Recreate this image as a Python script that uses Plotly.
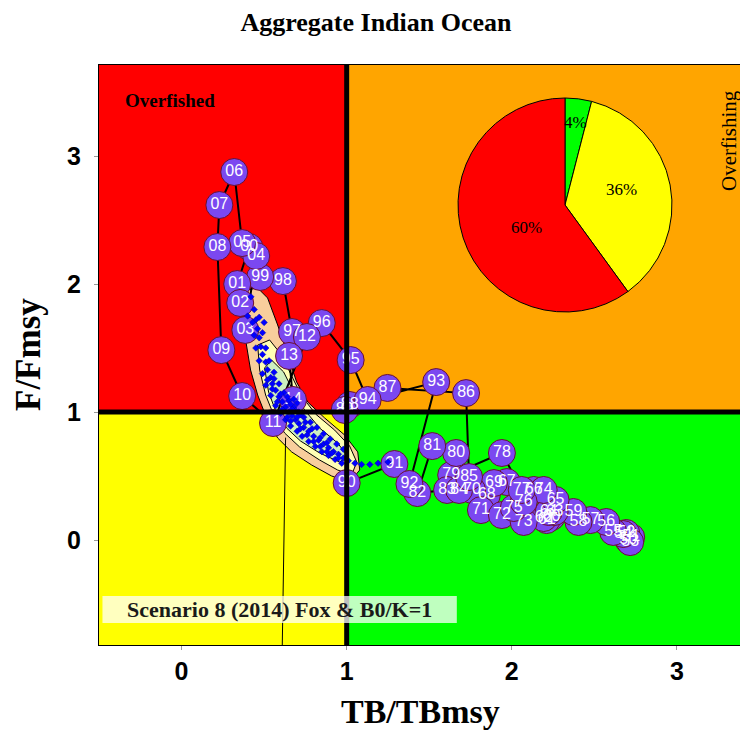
import math
import plotly.graph_objects as go

# ---- stock trajectory (1950-2014) ----
years = ["50", "51", "52", "53", "54", "55", "56", "57", "58", "59",
         "60", "61", "62", "63", "64", "65", "66", "67", "68", "69",
         "70", "71", "72", "73", "74", "75", "76", "77", "78", "79",
         "80", "81", "82", "83", "84", "85", "86", "87", "88", "89",
         "90", "91", "92", "93", "94", "95", "96", "97", "98", "99",
         "00", "01", "02", "03", "04", "05", "06", "07", "08", "09",
         "10", "11", "12", "13", "14"]
tb_ratio = [2.705, 2.723, 2.693, 2.717, 2.675, 2.614, 2.572, 2.476, 2.404, 2.373,
            2.241, 2.211, 2.193, 2.259, 2.223, 2.265, 2.133, 1.970, 1.849, 1.892,
            1.759, 1.813, 1.940, 2.072, 2.193, 2.012, 2.072, 2.060, 1.940, 1.633,
            1.663, 1.518, 1.428, 1.608, 1.681, 1.741, 1.723, 1.247, 1.018, 0.988,
            1.000, 1.289, 1.380, 1.542, 1.127, 1.024, 0.849, 0.669, 0.614, 0.476,
            0.410, 0.337, 0.355, 0.386, 0.452, 0.367, 0.319, 0.229, 0.217, 0.241,
            0.367, 0.554, 0.759, 0.651, 0.675]
f_ratio = [0.000, 0.023, 0.055, -0.016, 0.047, 0.063, 0.141, 0.156, 0.141, 0.219,
           0.180, 0.156, 0.172, 0.219, 0.219, 0.313, 0.391, 0.453, 0.352, 0.445,
           0.391, 0.234, 0.195, 0.141, 0.391, 0.250, 0.297, 0.391, 0.680, 0.508,
           0.680, 0.734, 0.367, 0.391, 0.391, 0.492, 1.148, 1.188, 1.055, 1.016,
           0.445, 0.594, 0.438, 1.234, 1.094, 1.406, 1.695, 1.625, 2.023, 2.055,
           2.289, 2.000, 1.852, 1.641, 2.219, 2.320, 2.875, 2.617, 2.289, 1.484,
           1.125, 0.914, 1.586, 1.438, 1.094]

# ---- uncertainty contours around the final-year estimate ----
outer_tb = [0.394, 0.376, 0.388, 0.418, 0.461, 0.515, 0.582, 0.667, 0.788, 0.909,
            1.018, 1.079, 1.067, 0.988, 0.867, 0.764, 0.697, 0.642, 0.582, 0.521,
            0.461]
outer_f = [1.953, 1.797, 1.563, 1.328, 1.133, 0.953, 0.797, 0.688, 0.586, 0.500,
           0.453, 0.547, 0.688, 0.820, 0.953, 1.078, 1.234, 1.445, 1.680, 1.891,
           1.969]
mid_tb = [0.461, 0.473, 0.509, 0.558, 0.624, 0.715, 0.836, 0.945, 1.030, 1.061,
          1.018, 0.927, 0.812, 0.727, 0.667, 0.606, 0.533]
mid_f = [1.523, 1.328, 1.133, 0.977, 0.836, 0.727, 0.625, 0.547, 0.508, 0.609,
         0.734, 0.859, 0.984, 1.125, 1.281, 1.445, 1.563]
inner_tb = [0.503, 0.527, 0.570, 0.636, 0.721, 0.836, 0.958, 1.006, 0.945, 0.836,
            0.745, 0.679, 0.618, 0.545]
inner_f = [1.344, 1.156, 1.008, 0.875, 0.773, 0.680, 0.609, 0.656, 0.758, 0.875,
           1.016, 1.156, 1.313, 1.406]

# ---- bootstrap estimates ----
boot_tb = [0.44, 0.45, 0.46, 0.47, 0.48, 0.49, 0.51, 0.52, 0.54, 0.55, 0.57, 0.59,
           0.61, 0.63, 0.65, 0.67, 0.69, 0.71, 0.74, 0.77, 0.80, 0.83, 0.86, 0.89,
           0.92, 0.95, 0.98, 1.01, 1.05, 1.09, 1.14, 1.19, 1.25,
           0.47, 0.49, 0.51, 0.53, 0.56, 0.59, 0.62, 0.65, 0.68, 0.71, 0.74, 0.78,
           0.82, 0.86, 0.90, 0.94, 0.98,
           0.43, 0.44, 0.45, 0.47, 0.49, 0.51, 0.54, 0.57, 0.60, 0.63, 0.66, 0.70,
           0.73, 0.77, 0.81, 0.85, 0.89, 0.93, 0.97,
           0.66, 0.68, 0.70, 0.64, 0.69, 0.72, 0.62, 0.66, 0.75, 0.79, 0.84, 0.88,
           0.42, 0.40, 0.50,
           0.52, 0.55, 0.56, 0.58, 0.60, 0.61, 0.64, 0.67, 0.70, 0.72, 0.76, 0.80,
           0.84, 0.88, 0.91, 0.95]
boot_f = [1.80, 1.72, 1.65, 1.58, 1.51, 1.45, 1.39, 1.33, 1.27, 1.22, 1.17, 1.12,
          1.08, 1.04, 1.00, 0.97, 0.94, 0.91, 0.88, 0.85, 0.81, 0.78, 0.75, 0.72,
          0.69, 0.67, 0.64, 0.62, 0.60, 0.59, 0.59, 0.60, 0.61,
          1.74, 1.62, 1.50, 1.40, 1.31, 1.22, 1.15, 1.09, 1.04, 1.00, 0.96, 0.92,
          0.88, 0.83, 0.79, 0.75, 0.71,
          1.70, 1.60, 1.50, 1.40, 1.30, 1.21, 1.13, 1.05, 0.99, 0.94, 0.89, 0.85,
          0.81, 0.77, 0.73, 0.69, 0.66, 0.63, 0.60,
          1.06, 1.10, 1.07, 1.12, 1.01, 0.98, 1.01, 0.93, 0.92, 0.87, 0.80, 0.76,
          1.90, 1.75, 1.70,
          1.25, 1.18, 1.26, 1.08, 1.14, 1.02, 0.96, 1.02, 0.96, 0.87, 0.82, 0.77,
          0.73, 0.69, 0.68, 0.64]

# projection line
proj_tb = [0.63, 0.61]
proj_f = [0.80, -0.82]

# ---- quadrant shares ----
pie_values = [4, 36, 60]
pie_colors = ["#00FF00", "#FFFF00", "#FF0000"]
pie_label_radius = [0.78, 0.55, 0.42]
pie_label_turn = [0, -4, -12]   # degrees

x_range = [-0.5, 3.382]
y_range = [-0.82, 3.711]

W, H = 740, 731
M_L, M_R, M_T, M_B = 99, 0, 65, 86
PW, PH = W - M_L - M_R, H - M_T - M_B

SERIF = "Liberation Serif"
SANS = "Liberation Sans"


def px_to_paper(px, py):
    return (px - M_L) / PW, (H - M_B - py) / PH


fig = go.Figure()

# contour bands
for xs, ys, col in [(outer_tb, outer_f, "#F8CE9C"),
                    (mid_tb, mid_f, "#FFFFB4"),
                    (inner_tb, inner_f, "#CDEFC0")]:
    fig.add_trace(go.Scatter(x=xs + xs[:1], y=ys + ys[:1], mode="lines",
                             fill="toself", fillcolor=col,
                             line=dict(color="black", width=1),
                             hoverinfo="skip", showlegend=False))

fig.add_trace(go.Scatter(x=proj_tb, y=proj_f, mode="lines",
                         line=dict(color="black", width=1),
                         hoverinfo="skip", showlegend=False))

# trajectory
fig.add_trace(go.Scatter(x=tb_ratio, y=f_ratio, mode="lines",
                         line=dict(color="black", width=2),
                         hoverinfo="skip", showlegend=False))
fig.add_trace(go.Scatter(x=tb_ratio, y=f_ratio, mode="markers+text",
                         text=years, textposition="middle center",
                         textfont=dict(family=SANS, size=16, color="white"),
                         marker=dict(size=27, color="#7B48F0",
                                     line=dict(color="#6A1030", width=1)),
                         showlegend=False))

# bootstrap points
fig.add_trace(go.Scatter(x=boot_tb, y=boot_f, mode="markers",
                         marker=dict(symbol="diamond", size=5, color="#0000FF",
                                     line=dict(width=0.5, color="#0000AA")),
                         hoverinfo="skip", showlegend=False))

# quadrant pie
pie_cx, pie_cy, pie_r = 565, 205, 107
dx0, dy1 = px_to_paper(pie_cx - pie_r, pie_cy - pie_r)
dx1, dy0 = px_to_paper(pie_cx + pie_r, pie_cy + pie_r)
fig.add_trace(go.Pie(values=pie_values, marker=dict(colors=pie_colors,
                     line=dict(color="black", width=1)),
                     sort=False, direction="clockwise", rotation=0,
                     textinfo="none", hoverinfo="skip", showlegend=False,
                     domain=dict(x=[dx0, dx1], y=[dy0, dy1])))

annotations = []
total = sum(pie_values)
cum = 0
for v, rf, turn in zip(pie_values, pie_label_radius, pie_label_turn):
    mid = (cum + v / 2) / total * 2 * math.pi + math.radians(turn)
    cum += v
    lx = pie_cx + math.sin(mid) * pie_r * rf
    ly = pie_cy - math.cos(mid) * pie_r * rf
    ax, ay = px_to_paper(lx, ly)
    annotations.append(dict(x=ax, y=ay, xref="paper", yref="paper",
                            xanchor="center", yanchor="middle",
                            text=f"{round(v / total * 100)}%", showarrow=False,
                            font=dict(family=SERIF, size=17, color="black")))

# quadrant / panel labels
annotations += [
    dict(x=-0.352, y=3.4375, xref="x", yref="y", text="<b>Overfished</b>",
         showarrow=False, xanchor="left", yanchor="middle",
         font=dict(family=SERIF, size=19, color="black")),
    dict(x=3.315, y=3.125, xref="x", yref="y", text="Overfishing",
         showarrow=False, textangle=-90, xanchor="center", yanchor="middle",
         font=dict(family=SERIF, size=21, color="black")),
    dict(x=0.594, y=-0.543, xref="x", yref="y",
         text="<b>Scenario 8 (2014) Fox &amp; B0/K=1</b>", showarrow=False,
         xanchor="center", yanchor="middle",
         font=dict(family=SERIF, size=22, color="#1a1a1a")),
]
tx, ty = px_to_paper(420, 711)
annotations.append(dict(x=tx, y=ty, xref="paper", yref="paper",
                        xanchor="center", yanchor="middle",
                        text="<b>TB/TBmsy</b>", showarrow=False,
                        font=dict(family=SERIF, size=34, color="black")))
tx, ty = px_to_paper(28, 355)
annotations.append(dict(x=tx, y=ty, xref="paper", yref="paper",
                        xanchor="center", yanchor="middle",
                        text="<b>F/Fmsy</b>", showarrow=False, textangle=-90,
                        font=dict(family=SERIF, size=35, color="black")))

x_lo, x_hi = x_range
y_lo, y_hi = y_range
shapes = [
    dict(type="rect", x0=x_lo, x1=1, y0=1, y1=y_hi, fillcolor="#FF0000",
         line=dict(width=0), layer="below"),
    dict(type="rect", x0=1, x1=x_hi, y0=1, y1=y_hi, fillcolor="#FFA500",
         line=dict(width=0), layer="below"),
    dict(type="rect", x0=x_lo, x1=1, y0=y_lo, y1=1, fillcolor="#FFFF00",
         line=dict(width=0), layer="below"),
    dict(type="rect", x0=1, x1=x_hi, y0=y_lo, y1=1, fillcolor="#00FF00",
         line=dict(width=0), layer="below"),
    dict(type="line", x0=1, x1=1, y0=y_lo, y1=y_hi,
         line=dict(color="black", width=5), layer="above"),
    dict(type="line", x0=x_lo, x1=x_hi, y0=1, y1=1,
         line=dict(color="black", width=5), layer="above"),
    dict(type="rect", x0=-0.479, x1=1.667, y0=-0.648, y1=-0.4375,
         fillcolor="rgba(255,255,255,0.75)", line=dict(width=0), layer="above"),
]

axis_common = dict(showgrid=False, zeroline=False, showline=True, mirror=True,
                   linecolor="black", linewidth=1, ticks="outside", ticklen=4,
                   tickcolor="#999999",
                   tickfont=dict(family=SANS, size=25, color="black", weight="bold"))

fig.update_layout(
    width=W, height=H,
    margin=dict(l=M_L, r=M_R, t=M_T, b=M_B),
    paper_bgcolor="white", plot_bgcolor="white",
    title=dict(text="<b>Aggregate Indian Ocean</b>", x=376 / W, y=1 - 22 / H,
               xanchor="center", yanchor="middle",
               font=dict(family=SERIF, size=26, color="black")),
    xaxis=dict(range=x_range, tickvals=[0, 1, 2, 3], ticklabelstandoff=0,
               **axis_common),
    yaxis=dict(range=y_range, tickvals=[0, 1, 2, 3], ticklabelstandoff=8,
               **axis_common),
    shapes=shapes,
    annotations=annotations,
)

fig.write_html("out.html")
